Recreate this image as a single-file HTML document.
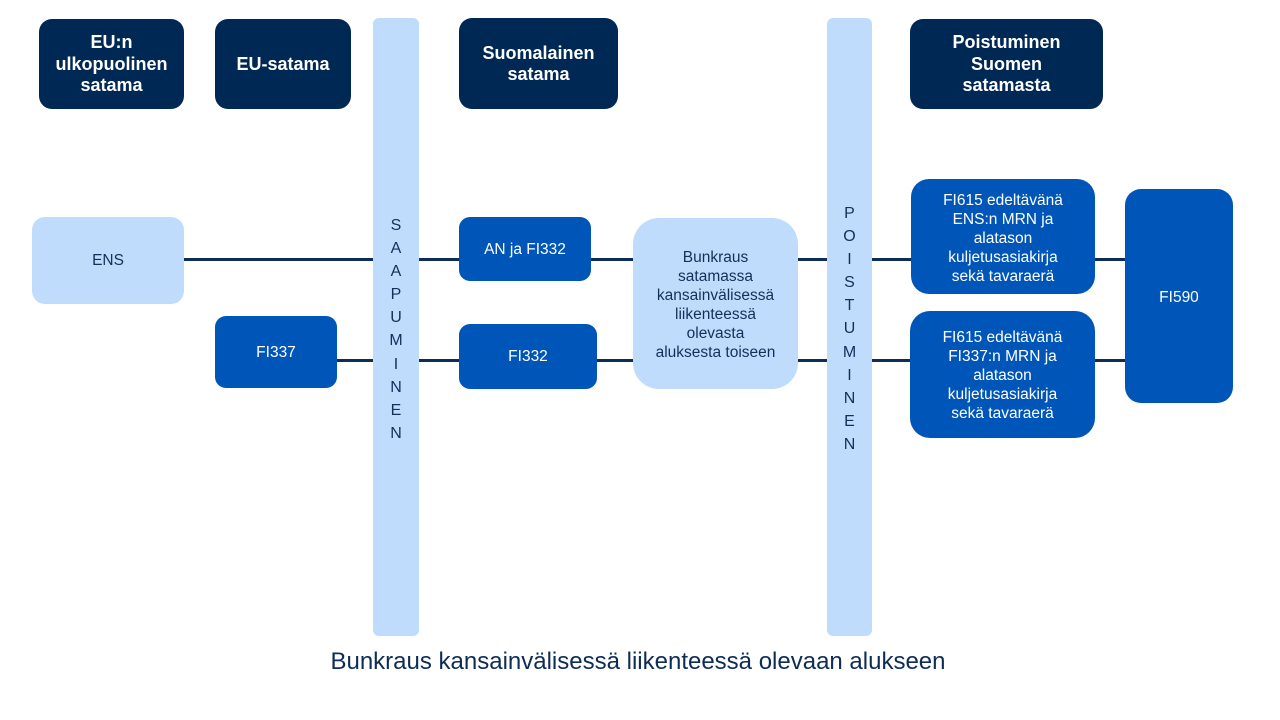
<!DOCTYPE html>
<html>
<head>
<meta charset="utf-8">
<style>
  html, body { margin:0; padding:0; background:#ffffff; }
  body { width:1280px; height:720px; position:relative; overflow:hidden;
         font-family:"Liberation Sans", Arial, sans-serif; }
  .b { position:absolute; box-sizing:border-box; display:flex; align-items:center;
       justify-content:center; text-align:center; }
  .hdr { background:#002855; color:#ffffff; font-weight:bold; font-size:18px;
         line-height:21.5px; border-radius:13px; padding-top:1px; }
  .mid { background:#0056b8; color:#ffffff; font-size:15.5px; line-height:19px; }
  .lt  { background:#bfdcfd; color:#14305a; font-size:15.5px; line-height:19px; }
  .bar { position:absolute; background:#bfdcfd; border-radius:6px; }
  .vt  { position:absolute; width:46px; text-align:center; color:#14305a;
         font-size:16px; line-height:23.1px; }
  .ln  { position:absolute; height:3px; background:#0d2c56; }
</style>
</head>
<body>

<!-- connector lines -->
<div class="ln" style="left:184px; top:258px; width:190px;"></div>
<div class="ln" style="left:419px; top:258px; width:41px;"></div>
<div class="ln" style="left:591px; top:258px; width:43px;"></div>
<div class="ln" style="left:798px; top:258px; width:30px;"></div>
<div class="ln" style="left:872px; top:258px; width:40px;"></div>
<div class="ln" style="left:1095px; top:258px; width:31px;"></div>

<div class="ln" style="left:337px; top:359px; width:37px;"></div>
<div class="ln" style="left:419px; top:359px; width:41px;"></div>
<div class="ln" style="left:597px; top:359px; width:37px;"></div>
<div class="ln" style="left:798px; top:359px; width:30px;"></div>
<div class="ln" style="left:872px; top:359px; width:40px;"></div>
<div class="ln" style="left:1095px; top:359px; width:31px;"></div>

<!-- header boxes -->
<div class="b hdr" style="left:39px; top:19px; width:145px; height:90px;">EU:n<br>ulkopuolinen<br>satama</div>
<div class="b hdr" style="left:215px; top:19px; width:136px; height:90px;">EU-satama</div>
<div class="b hdr" style="left:459px; top:18px; width:159px; height:91px;">Suomalainen<br>satama</div>
<div class="b hdr" style="left:910px; top:19px; width:193px; height:90px;">Poistuminen<br>Suomen<br>satamasta</div>

<!-- vertical bars -->
<div class="bar" style="left:373px; top:18px; width:46px; height:618px;"></div>
<div class="vt" style="left:373px; top:214px;">S<br>A<br>A<br>P<br>U<br>M<br>I<br>N<br>E<br>N</div>

<div class="bar" style="left:827px; top:18px; width:45px; height:618px;"></div>
<div class="vt" style="left:827px; top:202px; width:45px;">P<br>O<br>I<br>S<br>T<br>U<br>M<br>I<br>N<br>E<br>N</div>

<!-- process boxes -->
<div class="b lt" style="left:32px; top:217px; width:152px; height:87px; border-radius:13px;">ENS</div>
<div class="b mid" style="left:215px; top:316px; width:122px; height:72px; border-radius:11px;">FI337</div>
<div class="b mid" style="left:459px; top:217px; width:132px; height:64px; border-radius:11px;">AN ja FI332</div>
<div class="b mid" style="left:459px; top:324px; width:138px; height:65px; border-radius:11px;">FI332</div>
<div class="b lt" style="left:633px; top:218px; width:165px; height:171px; border-radius:26px; padding-top:2px;">Bunkraus<br>satamassa<br>kansainvälisessä<br>liikenteessä<br>olevasta<br>aluksesta toiseen</div>
<div class="b mid" style="left:911px; top:179px; width:184px; height:115px; border-radius:18px; padding-top:4px;">FI615 edeltävänä<br>ENS:n MRN ja<br>alatason<br>kuljetusasiakirja<br>sekä tavaraerä</div>
<div class="b mid" style="left:910px; top:311px; width:185px; height:127px; border-radius:20px; padding-top:2px;">FI615 edeltävänä<br>FI337:n MRN ja<br>alatason<br>kuljetusasiakirja<br>sekä tavaraerä</div>
<div class="b mid" style="left:1125px; top:189px; width:108px; height:214px; border-radius:16px; padding-top:2px;">FI590</div>

<!-- caption -->
<div style="position:absolute; left:0; top:648px; width:1276px; text-align:center; font-size:24px; line-height:28px; color:#0d2c56;">Bunkraus kansainvälisessä liikenteessä olevaan alukseen</div>

</body>
</html>
